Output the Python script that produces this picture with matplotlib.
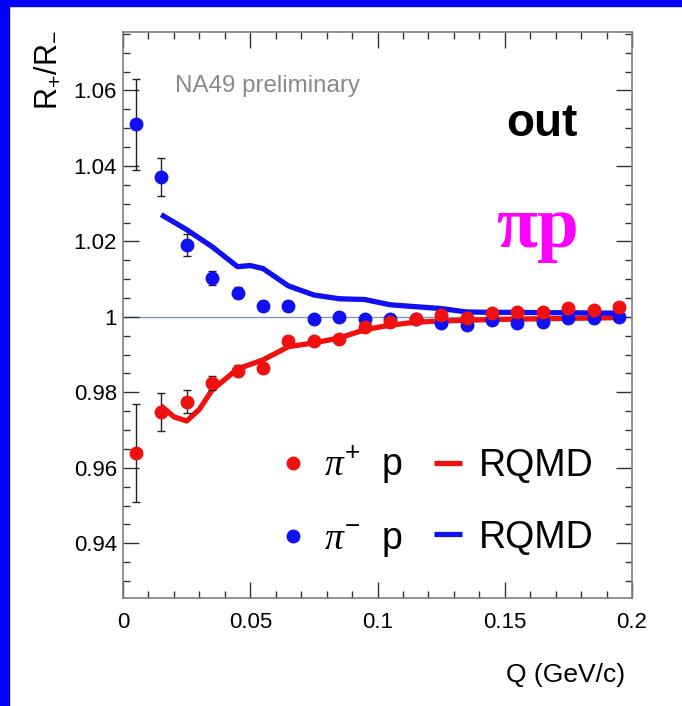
import matplotlib
matplotlib.use("Agg")
import matplotlib.pyplot as plt
from matplotlib.patches import Rectangle
from matplotlib.ticker import MultipleLocator
import numpy as np

plt.rcParams["font.family"] = ["Liberation Sans", "DejaVu Sans"]
plt.rcParams["mathtext.fontset"] = "custom"
plt.rcParams["mathtext.rm"] = "Liberation Sans"
plt.rcParams["mathtext.it"] = "Liberation Serif:italic"
plt.rcParams["mathtext.default"] = "regular"

# measured points: Q bin centres
Q = np.arange(0.005, 0.2, 0.01)

ratio_pip = [0.9640, 0.9748, 0.9775, 0.9825, 0.9857, 0.9865, 0.9936, 0.9936, 0.9942, 0.9974,
             0.9987, 0.9995, 1.0005, 0.9997, 1.0010, 1.0013, 1.0013, 1.0024, 1.0019, 1.0027]
err_pip = [0.013, 0.005, 0.003, 0.0018, 0.0015, 0.0012, 0.0011, 0.0010, 0.0010, 0.0009,
           0.0009, 0.0008, 0.0008, 0.0008, 0.0008, 0.0008, 0.0008, 0.0008, 0.0008, 0.0008]

ratio_pim = [1.0510, 1.0370, 1.0190, 1.0103, 1.0064, 1.0030, 1.0030, 0.9995, 1.0000, 0.9995,
             0.9995, 0.9995, 0.9984, 0.9979, 0.9992, 0.9984, 0.9987, 0.9997, 0.9997, 1.0000]
err_pim = [0.012, 0.005, 0.003, 0.0018, 0.0015, 0.0012, 0.0011, 0.0010, 0.0010, 0.0009,
           0.0009, 0.0008, 0.0008, 0.0008, 0.0008, 0.0008, 0.0008, 0.0008, 0.0008, 0.0008]

# RQMD curves
Q_rqmd_pip = [0.015, 0.02, 0.025, 0.03, 0.035, 0.045, 0.055, 0.065, 0.075, 0.085, 0.095,
              0.105, 0.115, 0.125, 0.135, 0.145, 0.155, 0.165, 0.175, 0.185, 0.195]
rqmd_pip = [0.9764, 0.9735, 0.9724, 0.9755, 0.9806, 0.9862, 0.9886, 0.9921, 0.9931, 0.9944, 0.9966,
            0.9978, 0.9986, 0.9989, 0.9991, 0.9993, 0.9994, 0.9995, 0.9996, 0.9997, 0.9998]

Q_rqmd_pim = [0.015, 0.025, 0.035, 0.045, 0.05, 0.055, 0.065, 0.075, 0.085, 0.095,
              0.105, 0.115, 0.125, 0.135, 0.145, 0.155, 0.165, 0.175, 0.185, 0.195]
rqmd_pim = [1.0271, 1.0231, 1.0186, 1.0133, 1.0136, 1.0128, 1.0082, 1.0058, 1.0048, 1.0046,
            1.0032, 1.0027, 1.0022, 1.0013, 1.0012, 1.0012, 1.0011, 1.0011, 1.0010, 1.0010]

RED = "#f01010"
BLUE = "#1010f0"

fig = plt.figure(figsize=(6.82, 7.06), dpi=100)
ax = fig.add_axes([0.1804, 0.1530, 0.7463, 0.8017])

# blue frame strips (top and left)
fig.patches.append(Rectangle((0, 1 - 6 / 706), 1, 6 / 706, transform=fig.transFigure,
                             color="#0000ff", zorder=0))
fig.patches.append(Rectangle((0, 0), 9 / 682, 1, transform=fig.transFigure,
                             color="#0000ff", zorder=0))

ax.axhline(1.0, color="#7f9aaa", lw=1.0, zorder=1)

l_pip, = ax.plot(Q_rqmd_pip, rqmd_pip, color=RED, lw=3.8, solid_capstyle="butt", zorder=2)
l_pim, = ax.plot(Q_rqmd_pim, rqmd_pim, color=BLUE, lw=3.8, solid_capstyle="butt", zorder=2)

ax.errorbar(Q, ratio_pim, yerr=err_pim, fmt="none", ecolor="#222222", elinewidth=1.0,
            capsize=3, zorder=3)
ax.errorbar(Q, ratio_pip, yerr=err_pip, fmt="none", ecolor="#222222", elinewidth=1.0,
            capsize=3, zorder=3)
p_pim, = ax.plot(Q, ratio_pim, "o", color=BLUE, ms=9, mec=BLUE, zorder=4)
p_pip, = ax.plot(Q, ratio_pip, "o", color=RED, ms=9, mec=RED, zorder=5)

ax.set_xlim(0, 0.2)
ax.set_ylim(0.9255, 1.0755)
ax.xaxis.set_major_locator(MultipleLocator(0.05))
ax.xaxis.set_minor_locator(MultipleLocator(0.01))
ax.yaxis.set_major_locator(MultipleLocator(0.02))
ax.yaxis.set_minor_locator(MultipleLocator(0.005))
ax.xaxis.set_major_formatter(plt.FuncFormatter(lambda v, _: f"{v:g}"))
ax.yaxis.set_major_formatter(plt.FuncFormatter(lambda v, _: f"{round(v, 4):g}"))

for s in ax.spines.values():
    s.set_color("#808080")
    s.set_linewidth(1.2)
ax.tick_params(which="both", direction="in", top=True, right=True, color="#333333", width=1.0)
ax.tick_params(which="major", length=11.5, labelsize=16)
ax.tick_params(axis="y", which="major", pad=4.5)
ax.tick_params(axis="x", which="major", pad=10)
ax.tick_params(which="minor", length=5)

ax.text(-0.147, 1.004, r"R$_{+}$/R$_{-}$", transform=ax.transAxes, rotation=90,
        ha="center", va="top", fontsize=22)
ax.text(0.986, -0.136, "Q (GeV/c)", transform=ax.transAxes, ha="right", va="center",
        fontsize=19)

ax.text(0.102, 0.905, "NA49 preliminary", transform=ax.transAxes, ha="left", va="center",
        fontsize=17.4, color="#8a8a8a")
ax.text(0.823, 0.838, "out", transform=ax.transAxes, ha="center", va="center",
        fontsize=33, fontweight="bold")
ax.text(0.815, 0.652, "πp", transform=ax.transAxes, ha="center", va="center",
        fontsize=54, fontweight="bold", color="#ff00ff", family=["Liberation Serif"])

ax.legend([p_pip, p_pim, l_pip, l_pim],
          [r"$\mathit{\pi}^{+}$  p", r"$\mathit{\pi}^{-}$  p", "RQMD", "RQMD"],
          ncol=2, loc="center", bbox_to_anchor=(0.615, 0.170), frameon=False,
          fontsize=27, handlelength=0.75, handletextpad=0.45, columnspacing=0.83,
          labelspacing=0.95, markerscale=1.0)

fig.savefig("out.png", dpi=100)
